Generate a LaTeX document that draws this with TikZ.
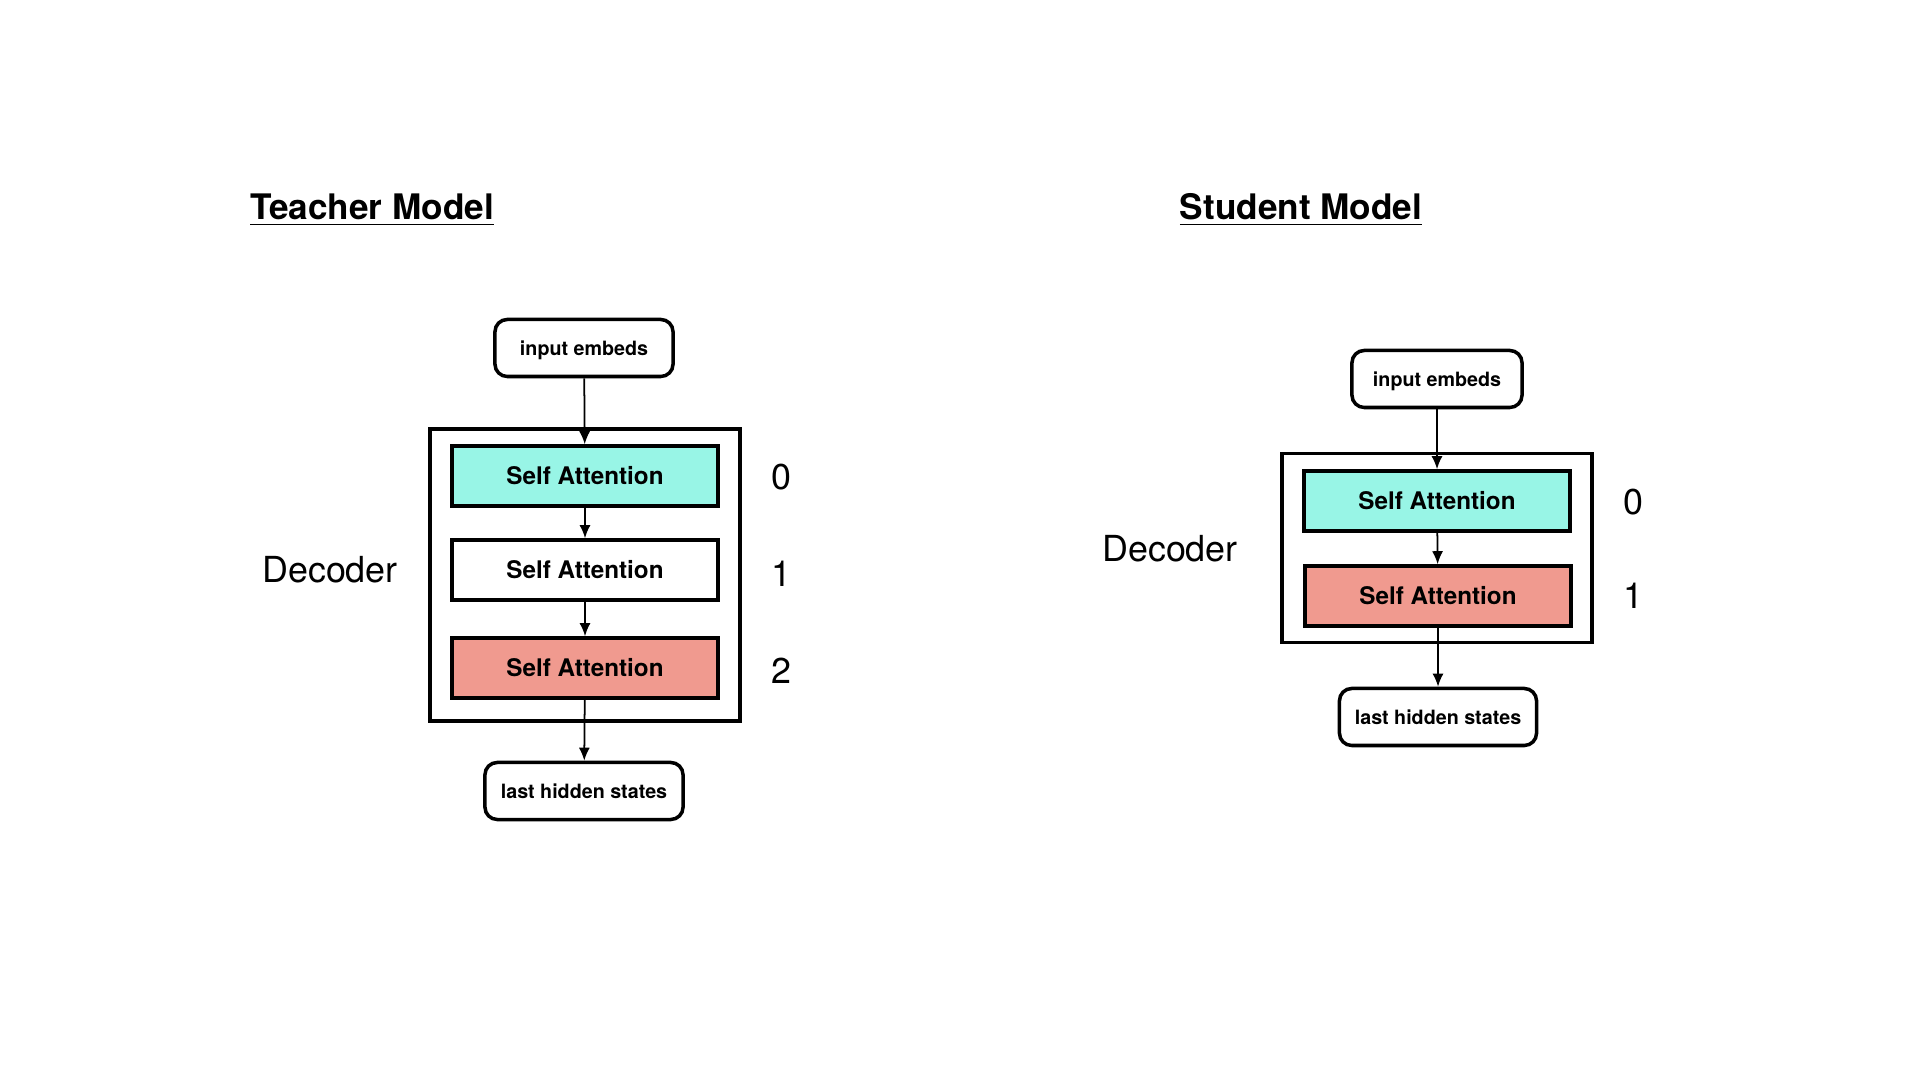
\documentclass[tikz,border=0pt]{standalone}
\usepackage{fontspec}
\setmainfont{TeX Gyre Heros}
\usetikzlibrary{arrows.meta, positioning}

\definecolor{attncyan}{HTML}{98F5E6}
\definecolor{attnred}{HTML}{F09A8F}

\begin{document}
\begin{tikzpicture}[
    x=0.01cm, y=-0.01cm,
    io/.style = {
        rectangle, draw=black, fill=white, rounded corners=3.5pt,
        line width=1pt, minimum height=0.57cm, inner sep=0pt,
        text depth=0pt,
        font=\fontsize{5.6}{7}\selectfont\bfseries
    },
    attn/.style = {
        rectangle, draw=black, line width=1pt, inner sep=0pt,
        minimum width=2.66cm, minimum height=0.6cm,
        font=\fontsize{6.9}{8}\selectfont\bfseries
    },
    decoder/.style = {
        rectangle, draw=black, line width=1pt, minimum width=3.1cm
    },
    title/.style = {font=\fontsize{10}{12}\selectfont\bfseries},
    label/.style = {font=\fontsize{10.2}{12}\selectfont},
    arr/.style = {-{Latex[length=1.3mm, width=1.1mm]}, line width=0.5pt},
]
\useasboundingbox (0,0) rectangle (1920,1080);

% Teacher
\node[title] (t_title) at (372,210) {\underline{Teacher Model}};
\node[decoder, minimum height=2.92cm] (t_dec) at (585,575) {};
\node[io, minimum width=1.78cm] (t_in) at (584,348) {input embeds};
\node[attn, fill=attncyan] (t_sa0) at (585,476) {Self Attention};
\node[attn, fill=white] (t_sa1) at (585,570) {Self Attention};
\node[attn, fill=attnred] (t_sa2) at (585,668) {Self Attention};
\node[io, minimum width=1.98cm] (t_out) at (584,791) {last hidden states};
\node[label] (t_lbl) at (330,570) {Decoder};
\node[label] (t_n0) at (781,477) {0};
\node[label] (t_n1) at (781,574) {1};
\node[label] (t_n2) at (781,671) {2};

% Student
\node[title] (s_title) at (1301,210) {\underline{Student Model}};
\node[decoder, minimum height=1.89cm] (s_dec) at (1437,548) {};
\node[io, minimum width=1.70cm] (s_in) at (1437,379) {input embeds};
\node[attn, fill=attncyan] (s_sa0) at (1437,501) {Self Attention};
\node[attn, fill=attnred] (s_sa1) at (1438,596) {Self Attention};
\node[io, minimum width=1.97cm] (s_out) at (1438,717) {last hidden states};
\node[label] (s_lbl) at (1170,549) {Decoder};
\node[label] (s_n0) at (1633,502) {0};
\node[label] (s_n1) at (1633,596) {1};

% Arrows
\draw[arr] (t_in) -- (t_sa0);
\draw[arr] (t_sa0) -- (t_sa1);
\draw[arr] (t_sa1) -- (t_sa2);
\draw[arr] (t_sa2) -- (t_out);
\draw[arr] (s_in) -- (s_sa0);
\draw[arr] (s_sa0) -- (s_sa1);
\draw[arr] (s_sa1) -- (s_out);

\end{tikzpicture}
\end{document}
